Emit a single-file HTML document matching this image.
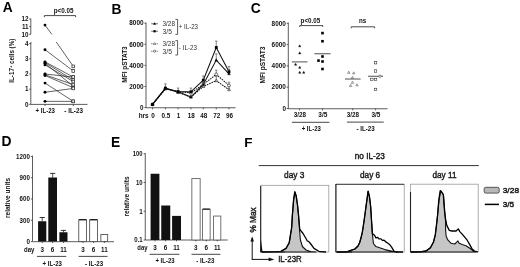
<!DOCTYPE html>
<html><head><meta charset="utf-8"><style>
html,body{margin:0;padding:0;background:#fff;}
body{width:520px;height:267px;overflow:hidden;}
svg{display:block;font-family:"Liberation Sans", sans-serif;filter:grayscale(100%) blur(0.3px);}
</style></head><body>
<svg width="520" height="267" viewBox="0 0 520 267">
<rect width="520" height="267" fill="#fff"/>
<text x="2.80" y="12.10" font-size="13.8" font-weight="bold" fill="#000">A</text>
<line x1="30.80" y1="18.60" x2="30.80" y2="34.40" stroke="#333" stroke-width="0.8" />
<line x1="30.80" y1="42.40" x2="30.80" y2="104.40" stroke="#333" stroke-width="0.8" />
<line x1="30.80" y1="42.60" x2="31.60" y2="42.60" stroke="#333" stroke-width="0.6" />
<line x1="29.20" y1="19.00" x2="30.80" y2="19.00" stroke="#333" stroke-width="0.8" />
<text x="28.60" y="21.27" font-size="6.3" text-anchor="end" font-weight="bold" fill="#111">12</text>
<line x1="29.20" y1="26.65" x2="30.80" y2="26.65" stroke="#333" stroke-width="0.8" />
<text x="28.60" y="28.92" font-size="6.3" text-anchor="end" font-weight="bold" fill="#111">11</text>
<line x1="29.20" y1="34.30" x2="30.80" y2="34.30" stroke="#333" stroke-width="0.8" />
<text x="28.60" y="36.57" font-size="6.3" text-anchor="end" font-weight="bold" fill="#111">10</text>
<line x1="29.20" y1="43.60" x2="30.80" y2="43.60" stroke="#333" stroke-width="0.8" />
<text x="28.60" y="45.87" font-size="6.3" text-anchor="end" font-weight="bold" fill="#111">4</text>
<line x1="29.20" y1="58.80" x2="30.80" y2="58.80" stroke="#333" stroke-width="0.8" />
<text x="28.60" y="61.07" font-size="6.3" text-anchor="end" font-weight="bold" fill="#111">3</text>
<line x1="29.20" y1="74.00" x2="30.80" y2="74.00" stroke="#333" stroke-width="0.8" />
<text x="28.60" y="76.27" font-size="6.3" text-anchor="end" font-weight="bold" fill="#111">2</text>
<line x1="29.20" y1="89.20" x2="30.80" y2="89.20" stroke="#333" stroke-width="0.8" />
<text x="28.60" y="91.47" font-size="6.3" text-anchor="end" font-weight="bold" fill="#111">1</text>
<line x1="29.20" y1="104.40" x2="30.80" y2="104.40" stroke="#333" stroke-width="0.8" />
<text x="28.60" y="106.67" font-size="6.3" text-anchor="end" font-weight="bold" fill="#111">0</text>
<line x1="30.80" y1="104.40" x2="87.50" y2="104.40" stroke="#333" stroke-width="0.8" />
<line x1="45.00" y1="104.40" x2="45.00" y2="106.00" stroke="#333" stroke-width="0.8" />
<line x1="73.30" y1="104.40" x2="73.30" y2="106.00" stroke="#333" stroke-width="0.8" />
<text x="45.30" y="112.87" font-size="6.3" text-anchor="middle" font-weight="bold" fill="#111" textLength="19.40" lengthAdjust="spacingAndGlyphs">+ IL-23</text>
<text x="73.70" y="112.87" font-size="6.3" text-anchor="middle" font-weight="bold" fill="#111" textLength="18.70" lengthAdjust="spacingAndGlyphs">- IL-23</text>
<polyline points="44.40,17.20 44.40,15.60 75.60,15.60 75.60,17.20" stroke="#333" stroke-width="0.9" fill="none" />
<text x="63.60" y="12.77" font-size="6.3" text-anchor="middle" font-weight="bold" fill="#111" textLength="19.80" lengthAdjust="spacingAndGlyphs">p&lt;0.05</text>
<g transform="translate(11.5,60.7) rotate(-90)"><text x="0" y="2.3" font-size="6.6" font-weight="bold" text-anchor="middle" fill="#111" textLength="44" lengthAdjust="spacingAndGlyphs">IL-17<tspan font-size="4.2" dy="-2.2">+</tspan><tspan dy="2.2"> cells (%)</tspan></text></g>
<line x1="45.00" y1="25.12" x2="51.90" y2="34.40" stroke="#222" stroke-width="0.7" />
<line x1="56.20" y1="41.90" x2="73.30" y2="66.40" stroke="#222" stroke-width="0.7" />
<line x1="45.00" y1="49.68" x2="73.30" y2="70.96" stroke="#222" stroke-width="0.7" />
<line x1="45.00" y1="61.84" x2="73.30" y2="77.04" stroke="#222" stroke-width="0.7" />
<line x1="45.00" y1="62.60" x2="73.30" y2="80.08" stroke="#222" stroke-width="0.7" />
<line x1="45.00" y1="63.36" x2="73.30" y2="86.16" stroke="#222" stroke-width="0.7" />
<line x1="45.00" y1="64.88" x2="73.30" y2="81.60" stroke="#222" stroke-width="0.7" />
<line x1="45.00" y1="74.00" x2="73.30" y2="77.04" stroke="#222" stroke-width="0.7" />
<line x1="45.00" y1="74.76" x2="73.30" y2="84.64" stroke="#222" stroke-width="0.7" />
<line x1="45.00" y1="75.52" x2="73.30" y2="87.68" stroke="#222" stroke-width="0.7" />
<line x1="45.00" y1="83.12" x2="73.30" y2="101.36" stroke="#222" stroke-width="0.7" />
<line x1="45.00" y1="92.24" x2="73.30" y2="88.44" stroke="#222" stroke-width="0.7" />
<line x1="45.00" y1="101.36" x2="73.30" y2="101.36" stroke="#222" stroke-width="0.7" />
<circle cx="45.0" cy="25.12" r="1.45" fill="#000"/>
<rect x="71.95" y="65.05" width="2.70" height="2.70" fill="#fff" stroke="#222" stroke-width="0.7" />
<circle cx="45.0" cy="49.68" r="1.45" fill="#000"/>
<rect x="71.95" y="69.61" width="2.70" height="2.70" fill="#fff" stroke="#222" stroke-width="0.7" />
<circle cx="45.0" cy="61.84" r="1.45" fill="#000"/>
<rect x="71.95" y="75.69" width="2.70" height="2.70" fill="#fff" stroke="#222" stroke-width="0.7" />
<circle cx="45.0" cy="62.60" r="1.45" fill="#000"/>
<rect x="71.95" y="78.73" width="2.70" height="2.70" fill="#fff" stroke="#222" stroke-width="0.7" />
<circle cx="45.0" cy="63.36" r="1.45" fill="#000"/>
<rect x="71.95" y="84.81" width="2.70" height="2.70" fill="#fff" stroke="#222" stroke-width="0.7" />
<circle cx="45.0" cy="64.88" r="1.45" fill="#000"/>
<rect x="71.95" y="80.25" width="2.70" height="2.70" fill="#fff" stroke="#222" stroke-width="0.7" />
<circle cx="45.0" cy="74.00" r="1.45" fill="#000"/>
<rect x="71.95" y="75.69" width="2.70" height="2.70" fill="#fff" stroke="#222" stroke-width="0.7" />
<circle cx="45.0" cy="74.76" r="1.45" fill="#000"/>
<rect x="71.95" y="83.29" width="2.70" height="2.70" fill="#fff" stroke="#222" stroke-width="0.7" />
<circle cx="45.0" cy="75.52" r="1.45" fill="#000"/>
<rect x="71.95" y="86.33" width="2.70" height="2.70" fill="#fff" stroke="#222" stroke-width="0.7" />
<circle cx="45.0" cy="83.12" r="1.45" fill="#000"/>
<rect x="71.95" y="100.01" width="2.70" height="2.70" fill="#fff" stroke="#222" stroke-width="0.7" />
<circle cx="45.0" cy="92.24" r="1.45" fill="#000"/>
<rect x="71.95" y="87.09" width="2.70" height="2.70" fill="#fff" stroke="#222" stroke-width="0.7" />
<circle cx="45.0" cy="101.36" r="1.45" fill="#000"/>
<rect x="71.95" y="100.01" width="2.70" height="2.70" fill="#fff" stroke="#222" stroke-width="0.7" />
<text x="111.40" y="13.60" font-size="13.8" font-weight="bold" fill="#000">B</text>
<line x1="146.00" y1="22.60" x2="146.00" y2="107.75" stroke="#333" stroke-width="0.8" />
<line x1="144.40" y1="23.20" x2="146.00" y2="23.20" stroke="#333" stroke-width="0.8" />
<text x="143.60" y="25.47" font-size="6.3" text-anchor="end" font-weight="bold" fill="#111" textLength="14.30" lengthAdjust="spacingAndGlyphs">8000</text>
<line x1="144.40" y1="44.30" x2="146.00" y2="44.30" stroke="#333" stroke-width="0.8" />
<text x="143.60" y="46.57" font-size="6.3" text-anchor="end" font-weight="bold" fill="#111" textLength="14.30" lengthAdjust="spacingAndGlyphs">6000</text>
<line x1="144.40" y1="65.40" x2="146.00" y2="65.40" stroke="#333" stroke-width="0.8" />
<text x="143.60" y="67.67" font-size="6.3" text-anchor="end" font-weight="bold" fill="#111" textLength="14.30" lengthAdjust="spacingAndGlyphs">4000</text>
<line x1="144.40" y1="86.50" x2="146.00" y2="86.50" stroke="#333" stroke-width="0.8" />
<text x="143.60" y="88.77" font-size="6.3" text-anchor="end" font-weight="bold" fill="#111" textLength="14.30" lengthAdjust="spacingAndGlyphs">2000</text>
<line x1="144.40" y1="107.60" x2="146.00" y2="107.60" stroke="#333" stroke-width="0.8" />
<text x="143.60" y="109.87" font-size="6.3" text-anchor="end" font-weight="bold" fill="#111">0</text>
<line x1="146.00" y1="107.75" x2="235.60" y2="107.75" stroke="#333" stroke-width="0.8" />
<line x1="152.50" y1="107.75" x2="152.50" y2="109.30" stroke="#333" stroke-width="0.8" />
<text x="152.90" y="117.87" font-size="6.3" text-anchor="middle" font-weight="bold" fill="#111">0</text>
<line x1="165.40" y1="107.75" x2="165.40" y2="109.30" stroke="#333" stroke-width="0.8" />
<text x="165.80" y="117.87" font-size="6.3" text-anchor="middle" font-weight="bold" fill="#111">0.5</text>
<line x1="178.10" y1="107.75" x2="178.10" y2="109.30" stroke="#333" stroke-width="0.8" />
<text x="178.50" y="117.87" font-size="6.3" text-anchor="middle" font-weight="bold" fill="#111">1</text>
<line x1="190.90" y1="107.75" x2="190.90" y2="109.30" stroke="#333" stroke-width="0.8" />
<text x="191.30" y="117.87" font-size="6.3" text-anchor="middle" font-weight="bold" fill="#111">18</text>
<line x1="203.30" y1="107.75" x2="203.30" y2="109.30" stroke="#333" stroke-width="0.8" />
<text x="203.70" y="117.87" font-size="6.3" text-anchor="middle" font-weight="bold" fill="#111">48</text>
<line x1="216.25" y1="107.75" x2="216.25" y2="109.30" stroke="#333" stroke-width="0.8" />
<text x="216.65" y="117.87" font-size="6.3" text-anchor="middle" font-weight="bold" fill="#111">72</text>
<line x1="229.00" y1="107.75" x2="229.00" y2="109.30" stroke="#333" stroke-width="0.8" />
<text x="229.40" y="117.87" font-size="6.3" text-anchor="middle" font-weight="bold" fill="#111">96</text>
<text x="143.70" y="117.87" font-size="6.3" text-anchor="middle" font-weight="bold" fill="#111" textLength="10.00" lengthAdjust="spacingAndGlyphs">hrs</text>
<g transform="translate(124.6,64.5) rotate(-90)"><text x="0" y="2.27" font-size="6.3" font-weight="bold" text-anchor="middle" fill="#111" textLength="36.4" lengthAdjust="spacingAndGlyphs">MFI pSTAT3</text></g>
<polyline points="152.50,104.43 165.40,88.61 178.10,92.30 190.90,97.05 203.30,86.50 216.25,80.70 229.00,89.66" stroke="#111" stroke-width="1.05" fill="none" stroke-dasharray="1.6,0.9"/>
<polyline points="152.50,104.43 165.40,88.61 178.10,91.77 190.90,92.83 203.30,84.39 216.25,74.37 229.00,85.44" stroke="#111" stroke-width="1.05" fill="none" stroke-dasharray="1.6,0.9"/>
<polyline points="152.50,104.43 165.40,88.61 178.10,91.77 190.90,97.05 203.30,84.39 216.25,60.12 229.00,73.84" stroke="#111" stroke-width="1.05" fill="none" />
<polyline points="152.50,104.43 165.40,88.08 178.10,91.77 190.90,91.77 203.30,80.17 216.25,47.46 229.00,71.73" stroke="#111" stroke-width="1.05" fill="none" />
<line x1="165.40" y1="88.08" x2="165.40" y2="83.86" stroke="#666" stroke-width="0.8" />
<line x1="164.20" y1="83.86" x2="166.60" y2="83.86" stroke="#666" stroke-width="0.8" />
<line x1="178.10" y1="91.77" x2="178.10" y2="88.08" stroke="#666" stroke-width="0.8" />
<line x1="176.90" y1="88.08" x2="179.30" y2="88.08" stroke="#666" stroke-width="0.8" />
<line x1="190.90" y1="91.77" x2="190.90" y2="88.08" stroke="#666" stroke-width="0.8" />
<line x1="189.70" y1="88.08" x2="192.10" y2="88.08" stroke="#666" stroke-width="0.8" />
<line x1="203.30" y1="80.17" x2="203.30" y2="75.95" stroke="#666" stroke-width="0.8" />
<line x1="202.10" y1="75.95" x2="204.50" y2="75.95" stroke="#666" stroke-width="0.8" />
<line x1="216.25" y1="47.46" x2="216.25" y2="41.13" stroke="#666" stroke-width="0.8" />
<line x1="215.05" y1="41.13" x2="217.45" y2="41.13" stroke="#666" stroke-width="0.8" />
<line x1="229.00" y1="71.73" x2="229.00" y2="66.45" stroke="#666" stroke-width="0.8" />
<line x1="227.80" y1="66.45" x2="230.20" y2="66.45" stroke="#666" stroke-width="0.8" />
<line x1="165.40" y1="88.61" x2="165.40" y2="87.55" stroke="#666" stroke-width="0.8" />
<line x1="164.20" y1="87.55" x2="166.60" y2="87.55" stroke="#666" stroke-width="0.8" />
<line x1="178.10" y1="91.77" x2="178.10" y2="90.72" stroke="#666" stroke-width="0.8" />
<line x1="176.90" y1="90.72" x2="179.30" y2="90.72" stroke="#666" stroke-width="0.8" />
<line x1="190.90" y1="97.05" x2="190.90" y2="95.99" stroke="#666" stroke-width="0.8" />
<line x1="189.70" y1="95.99" x2="192.10" y2="95.99" stroke="#666" stroke-width="0.8" />
<line x1="203.30" y1="84.39" x2="203.30" y2="82.28" stroke="#666" stroke-width="0.8" />
<line x1="202.10" y1="82.28" x2="204.50" y2="82.28" stroke="#666" stroke-width="0.8" />
<line x1="216.25" y1="60.12" x2="216.25" y2="53.79" stroke="#666" stroke-width="0.8" />
<line x1="215.05" y1="53.79" x2="217.45" y2="53.79" stroke="#666" stroke-width="0.8" />
<line x1="229.00" y1="73.84" x2="229.00" y2="69.62" stroke="#666" stroke-width="0.8" />
<line x1="227.80" y1="69.62" x2="230.20" y2="69.62" stroke="#666" stroke-width="0.8" />
<line x1="165.40" y1="88.61" x2="165.40" y2="87.55" stroke="#666" stroke-width="0.8" />
<line x1="164.20" y1="87.55" x2="166.60" y2="87.55" stroke="#666" stroke-width="0.8" />
<line x1="178.10" y1="91.77" x2="178.10" y2="90.72" stroke="#666" stroke-width="0.8" />
<line x1="176.90" y1="90.72" x2="179.30" y2="90.72" stroke="#666" stroke-width="0.8" />
<line x1="190.90" y1="92.83" x2="190.90" y2="91.77" stroke="#666" stroke-width="0.8" />
<line x1="189.70" y1="91.77" x2="192.10" y2="91.77" stroke="#666" stroke-width="0.8" />
<line x1="203.30" y1="84.39" x2="203.30" y2="82.28" stroke="#666" stroke-width="0.8" />
<line x1="202.10" y1="82.28" x2="204.50" y2="82.28" stroke="#666" stroke-width="0.8" />
<line x1="216.25" y1="74.37" x2="216.25" y2="70.15" stroke="#666" stroke-width="0.8" />
<line x1="215.05" y1="70.15" x2="217.45" y2="70.15" stroke="#666" stroke-width="0.8" />
<line x1="229.00" y1="85.44" x2="229.00" y2="82.28" stroke="#666" stroke-width="0.8" />
<line x1="227.80" y1="82.28" x2="230.20" y2="82.28" stroke="#666" stroke-width="0.8" />
<line x1="165.40" y1="88.61" x2="165.40" y2="87.55" stroke="#666" stroke-width="0.8" />
<line x1="164.20" y1="87.55" x2="166.60" y2="87.55" stroke="#666" stroke-width="0.8" />
<line x1="178.10" y1="92.30" x2="178.10" y2="91.25" stroke="#666" stroke-width="0.8" />
<line x1="176.90" y1="91.25" x2="179.30" y2="91.25" stroke="#666" stroke-width="0.8" />
<line x1="190.90" y1="97.05" x2="190.90" y2="95.99" stroke="#666" stroke-width="0.8" />
<line x1="189.70" y1="95.99" x2="192.10" y2="95.99" stroke="#666" stroke-width="0.8" />
<line x1="203.30" y1="86.50" x2="203.30" y2="84.39" stroke="#666" stroke-width="0.8" />
<line x1="202.10" y1="84.39" x2="204.50" y2="84.39" stroke="#666" stroke-width="0.8" />
<line x1="216.25" y1="80.70" x2="216.25" y2="76.48" stroke="#666" stroke-width="0.8" />
<line x1="215.05" y1="76.48" x2="217.45" y2="76.48" stroke="#666" stroke-width="0.8" />
<line x1="229.00" y1="89.66" x2="229.00" y2="86.50" stroke="#666" stroke-width="0.8" />
<line x1="227.80" y1="86.50" x2="230.20" y2="86.50" stroke="#666" stroke-width="0.8" />
<polygon points="152.50,102.92 151.10,105.44 153.90,105.44" fill="#fff" stroke="#111" stroke-width="0.6"/>
<polygon points="165.40,87.10 164.00,89.62 166.80,89.62" fill="#fff" stroke="#111" stroke-width="0.6"/>
<polygon points="178.10,90.79 176.70,93.31 179.50,93.31" fill="#fff" stroke="#111" stroke-width="0.6"/>
<polygon points="190.90,95.54 189.50,98.06 192.30,98.06" fill="#fff" stroke="#111" stroke-width="0.6"/>
<polygon points="203.30,84.99 201.90,87.51 204.70,87.51" fill="#fff" stroke="#111" stroke-width="0.6"/>
<polygon points="216.25,79.19 214.85,81.71 217.65,81.71" fill="#fff" stroke="#111" stroke-width="0.6"/>
<polygon points="229.00,88.15 227.60,90.67 230.40,90.67" fill="#fff" stroke="#111" stroke-width="0.6"/>
<circle cx="152.5" cy="104.43" r="1.45" fill="#fff" stroke="#111" stroke-width="0.6"/>
<circle cx="165.4" cy="88.61" r="1.45" fill="#fff" stroke="#111" stroke-width="0.6"/>
<circle cx="178.1" cy="91.77" r="1.45" fill="#fff" stroke="#111" stroke-width="0.6"/>
<circle cx="190.9" cy="92.83" r="1.45" fill="#fff" stroke="#111" stroke-width="0.6"/>
<circle cx="203.3" cy="84.39" r="1.45" fill="#fff" stroke="#111" stroke-width="0.6"/>
<circle cx="216.25" cy="74.37" r="1.45" fill="#fff" stroke="#111" stroke-width="0.6"/>
<circle cx="229.0" cy="85.44" r="1.45" fill="#fff" stroke="#111" stroke-width="0.6"/>
<polygon points="152.50,102.92 151.10,105.44 153.90,105.44" fill="#000" stroke="#111" stroke-width="0.4"/>
<polygon points="165.40,87.10 164.00,89.62 166.80,89.62" fill="#000" stroke="#111" stroke-width="0.4"/>
<polygon points="178.10,90.26 176.70,92.78 179.50,92.78" fill="#000" stroke="#111" stroke-width="0.4"/>
<polygon points="190.90,95.54 189.50,98.06 192.30,98.06" fill="#000" stroke="#111" stroke-width="0.4"/>
<polygon points="203.30,82.88 201.90,85.40 204.70,85.40" fill="#000" stroke="#111" stroke-width="0.4"/>
<polygon points="216.25,58.61 214.85,61.13 217.65,61.13" fill="#000" stroke="#111" stroke-width="0.4"/>
<polygon points="229.00,72.33 227.60,74.85 230.40,74.85" fill="#000" stroke="#111" stroke-width="0.4"/>
<rect x="151.10" y="103.03" width="2.80" height="2.80" fill="#000" stroke="none" stroke-width="0" />
<rect x="164.00" y="86.68" width="2.80" height="2.80" fill="#000" stroke="none" stroke-width="0" />
<rect x="176.70" y="90.37" width="2.80" height="2.80" fill="#000" stroke="none" stroke-width="0" />
<rect x="189.50" y="90.37" width="2.80" height="2.80" fill="#000" stroke="none" stroke-width="0" />
<rect x="201.90" y="78.77" width="2.80" height="2.80" fill="#000" stroke="none" stroke-width="0" />
<rect x="214.85" y="46.06" width="2.80" height="2.80" fill="#000" stroke="none" stroke-width="0" />
<rect x="227.60" y="70.33" width="2.80" height="2.80" fill="#000" stroke="none" stroke-width="0" />
<line x1="151.20" y1="23.75" x2="158.00" y2="23.75" stroke="#333" stroke-width="0.7" />
<polygon points="154.60,22.56 153.50,24.54 155.70,24.54" fill="#000" stroke="#111" stroke-width="0.4"/>
<line x1="151.20" y1="31.25" x2="158.00" y2="31.25" stroke="#333" stroke-width="0.7" />
<rect x="153.50" y="30.15" width="2.20" height="2.20" fill="#000" stroke="none" stroke-width="0" />
<line x1="151.20" y1="43.75" x2="158.00" y2="43.75" stroke="#333" stroke-width="0.7" stroke-dasharray="1.2,0.8"/>
<polygon points="154.60,42.56 153.50,44.54 155.70,44.54" fill="#fff" stroke="#111" stroke-width="0.4"/>
<line x1="151.20" y1="51.25" x2="158.00" y2="51.25" stroke="#333" stroke-width="0.7" stroke-dasharray="1.2,0.8"/>
<circle cx="154.6" cy="51.25" r="1.1" fill="#fff" stroke="#111" stroke-width="0.5"/>
<text x="162.50" y="26.02" font-size="6.3" text-anchor="start" font-weight="normal" fill="#333" textLength="12.50" lengthAdjust="spacingAndGlyphs">3/28</text>
<text x="162.50" y="33.52" font-size="6.3" text-anchor="start" font-weight="normal" fill="#333" textLength="9.40" lengthAdjust="spacingAndGlyphs">3/5</text>
<text x="162.50" y="46.02" font-size="6.3" text-anchor="start" font-weight="normal" fill="#333" textLength="12.50" lengthAdjust="spacingAndGlyphs">3/28</text>
<text x="162.50" y="53.52" font-size="6.3" text-anchor="start" font-weight="normal" fill="#333" textLength="9.40" lengthAdjust="spacingAndGlyphs">3/5</text>
<polyline points="175.40,19.40 177.60,19.40 177.60,34.40 175.40,34.40" stroke="#333" stroke-width="0.8" fill="none" />
<polyline points="175.40,40.60 177.60,40.60 177.60,55.00 175.40,55.00" stroke="#333" stroke-width="0.8" fill="none" />
<text x="178.80" y="29.17" font-size="6.3" text-anchor="start" font-weight="normal" fill="#333" textLength="19.20" lengthAdjust="spacingAndGlyphs">+ IL-23</text>
<text x="178.80" y="49.77" font-size="6.3" text-anchor="start" font-weight="normal" fill="#333" textLength="18.20" lengthAdjust="spacingAndGlyphs">- IL-23</text>
<text x="250.80" y="13.20" font-size="13.8" font-weight="bold" fill="#000">C</text>
<line x1="288.30" y1="22.60" x2="288.30" y2="108.75" stroke="#333" stroke-width="0.8" />
<line x1="286.70" y1="23.30" x2="288.30" y2="23.30" stroke="#333" stroke-width="0.8" />
<text x="285.90" y="25.57" font-size="6.3" text-anchor="end" font-weight="bold" fill="#111" textLength="14.30" lengthAdjust="spacingAndGlyphs">8000</text>
<line x1="286.70" y1="44.60" x2="288.30" y2="44.60" stroke="#333" stroke-width="0.8" />
<text x="285.90" y="46.87" font-size="6.3" text-anchor="end" font-weight="bold" fill="#111" textLength="14.30" lengthAdjust="spacingAndGlyphs">6000</text>
<line x1="286.70" y1="65.90" x2="288.30" y2="65.90" stroke="#333" stroke-width="0.8" />
<text x="285.90" y="68.17" font-size="6.3" text-anchor="end" font-weight="bold" fill="#111" textLength="14.30" lengthAdjust="spacingAndGlyphs">4000</text>
<line x1="286.70" y1="87.20" x2="288.30" y2="87.20" stroke="#333" stroke-width="0.8" />
<text x="285.90" y="89.47" font-size="6.3" text-anchor="end" font-weight="bold" fill="#111" textLength="14.30" lengthAdjust="spacingAndGlyphs">2000</text>
<line x1="286.70" y1="108.50" x2="288.30" y2="108.50" stroke="#333" stroke-width="0.8" />
<text x="285.90" y="110.77" font-size="6.3" text-anchor="end" font-weight="bold" fill="#111">0</text>
<line x1="288.30" y1="108.75" x2="387.50" y2="108.75" stroke="#333" stroke-width="0.8" />
<line x1="299.50" y1="108.75" x2="299.50" y2="110.30" stroke="#333" stroke-width="0.8" />
<text x="299.80" y="117.17" font-size="6.3" text-anchor="middle" font-weight="bold" fill="#111" textLength="12.30" lengthAdjust="spacingAndGlyphs">3/28</text>
<line x1="322.50" y1="108.75" x2="322.50" y2="110.30" stroke="#333" stroke-width="0.8" />
<text x="322.80" y="117.17" font-size="6.3" text-anchor="middle" font-weight="bold" fill="#111" textLength="9.00" lengthAdjust="spacingAndGlyphs">3/5</text>
<line x1="352.70" y1="108.75" x2="352.70" y2="110.30" stroke="#333" stroke-width="0.8" />
<text x="353.00" y="117.17" font-size="6.3" text-anchor="middle" font-weight="bold" fill="#111" textLength="12.30" lengthAdjust="spacingAndGlyphs">3/28</text>
<line x1="375.60" y1="108.75" x2="375.60" y2="110.30" stroke="#333" stroke-width="0.8" />
<text x="375.90" y="117.17" font-size="6.3" text-anchor="middle" font-weight="bold" fill="#111" textLength="9.00" lengthAdjust="spacingAndGlyphs">3/5</text>
<line x1="291.90" y1="122.30" x2="329.40" y2="122.30" stroke="#333" stroke-width="0.9" />
<line x1="346.90" y1="122.10" x2="383.75" y2="122.10" stroke="#333" stroke-width="0.9" />
<text x="311.25" y="131.47" font-size="6.3" text-anchor="middle" font-weight="bold" fill="#111" textLength="19.20" lengthAdjust="spacingAndGlyphs">+ IL-23</text>
<text x="365.60" y="130.87" font-size="6.3" text-anchor="middle" font-weight="bold" fill="#111" textLength="18.40" lengthAdjust="spacingAndGlyphs">- IL-23</text>
<polyline points="299.75,27.00 299.75,25.60 322.75,25.60 322.75,27.00" stroke="#333" stroke-width="0.9" fill="none" />
<text x="310.40" y="23.47" font-size="6.3" text-anchor="middle" font-weight="bold" fill="#111" textLength="19.60" lengthAdjust="spacingAndGlyphs">p&lt;0.05</text>
<polyline points="351.25,28.20 351.25,26.80 374.60,26.80 374.60,28.20" stroke="#333" stroke-width="0.9" fill="none" />
<text x="362.60" y="23.37" font-size="6.3" text-anchor="middle" font-weight="bold" fill="#111" textLength="7.20" lengthAdjust="spacingAndGlyphs">ns</text>
<g transform="translate(263.1,65.0) rotate(-90)"><text x="0" y="2.27" font-size="6.3" font-weight="bold" text-anchor="middle" fill="#111" textLength="36.9" lengthAdjust="spacingAndGlyphs">MFI pSTAT3</text></g>
<polygon points="299.75,44.76 298.60,46.83 300.90,46.83" fill="#000" stroke="#111" stroke-width="0.4"/>
<polygon points="299.75,51.86 298.60,53.93 300.90,53.93" fill="#000" stroke="#111" stroke-width="0.4"/>
<polygon points="295.60,63.16 294.45,65.23 296.75,65.23" fill="#000" stroke="#111" stroke-width="0.4"/>
<polygon points="299.75,66.26 298.60,68.33 300.90,68.33" fill="#000" stroke="#111" stroke-width="0.4"/>
<polygon points="299.75,71.26 298.60,73.33 300.90,73.33" fill="#000" stroke="#111" stroke-width="0.4"/>
<polygon points="303.75,71.26 302.60,73.33 304.90,73.33" fill="#000" stroke="#111" stroke-width="0.4"/>
<rect x="321.20" y="31.80" width="2.60" height="2.60" fill="#000" stroke="none" stroke-width="0" />
<rect x="321.20" y="39.95" width="2.60" height="2.60" fill="#000" stroke="none" stroke-width="0" />
<rect x="321.20" y="55.20" width="2.60" height="2.60" fill="#000" stroke="none" stroke-width="0" />
<rect x="317.20" y="59.30" width="2.60" height="2.60" fill="#000" stroke="none" stroke-width="0" />
<rect x="321.20" y="60.20" width="2.60" height="2.60" fill="#000" stroke="none" stroke-width="0" />
<rect x="321.20" y="67.70" width="2.60" height="2.60" fill="#000" stroke="none" stroke-width="0" />
<line x1="291.90" y1="61.90" x2="307.50" y2="61.90" stroke="#222" stroke-width="0.8" />
<line x1="314.40" y1="53.75" x2="330.60" y2="53.75" stroke="#222" stroke-width="0.8" />
<line x1="345.00" y1="79.00" x2="360.60" y2="79.00" stroke="#222" stroke-width="0.8" />
<line x1="368.00" y1="76.25" x2="383.00" y2="76.25" stroke="#222" stroke-width="0.8" />
<polygon points="348.75,71.20 347.55,73.36 349.95,73.36" fill="#fff" stroke="#111" stroke-width="0.4"/>
<polygon points="353.75,71.80 352.55,73.96 354.95,73.96" fill="#fff" stroke="#111" stroke-width="0.4"/>
<polygon points="352.50,76.20 351.30,78.36 353.70,78.36" fill="#fff" stroke="#111" stroke-width="0.4"/>
<polygon points="352.50,81.20 351.30,83.36 353.70,83.36" fill="#fff" stroke="#111" stroke-width="0.4"/>
<polygon points="350.60,84.30 349.40,86.46 351.80,86.46" fill="#fff" stroke="#111" stroke-width="0.4"/>
<polygon points="357.00,83.70 355.80,85.86 358.20,85.86" fill="#fff" stroke="#111" stroke-width="0.4"/>
<rect x="374.40" y="61.55" width="2.40" height="2.40" fill="#fff" stroke="#111" stroke-width="0.5" />
<rect x="374.40" y="69.80" width="2.40" height="2.40" fill="#fff" stroke="#111" stroke-width="0.5" />
<rect x="370.70" y="78.20" width="2.40" height="2.40" fill="#fff" stroke="#111" stroke-width="0.5" />
<rect x="374.40" y="78.20" width="2.40" height="2.40" fill="#fff" stroke="#111" stroke-width="0.5" />
<rect x="374.40" y="88.20" width="2.40" height="2.40" fill="#fff" stroke="#111" stroke-width="0.5" />
<circle cx="380" cy="76.2" r="1.2" fill="#fff" stroke="#111" stroke-width="0.5"/>
<text x="1.60" y="146.40" font-size="13.8" font-weight="bold" fill="#000">D</text>
<line x1="32.50" y1="155.60" x2="32.50" y2="241.50" stroke="#333" stroke-width="0.8" />
<line x1="30.90" y1="156.48" x2="32.50" y2="156.48" stroke="#333" stroke-width="0.8" />
<text x="29.90" y="158.75" font-size="6.3" text-anchor="end" font-weight="bold" fill="#111" textLength="13.80" lengthAdjust="spacingAndGlyphs">1200</text>
<line x1="30.90" y1="177.74" x2="32.50" y2="177.74" stroke="#333" stroke-width="0.8" />
<text x="29.90" y="180.00" font-size="6.3" text-anchor="end" font-weight="bold" fill="#111" textLength="10.30" lengthAdjust="spacingAndGlyphs">900</text>
<line x1="30.90" y1="198.99" x2="32.50" y2="198.99" stroke="#333" stroke-width="0.8" />
<text x="29.90" y="201.26" font-size="6.3" text-anchor="end" font-weight="bold" fill="#111" textLength="10.30" lengthAdjust="spacingAndGlyphs">600</text>
<line x1="30.90" y1="220.25" x2="32.50" y2="220.25" stroke="#333" stroke-width="0.8" />
<text x="29.90" y="222.51" font-size="6.3" text-anchor="end" font-weight="bold" fill="#111" textLength="10.30" lengthAdjust="spacingAndGlyphs">300</text>
<line x1="30.90" y1="241.50" x2="32.50" y2="241.50" stroke="#333" stroke-width="0.8" />
<text x="29.90" y="243.77" font-size="6.3" text-anchor="end" font-weight="bold" fill="#111">0</text>
<line x1="32.50" y1="241.70" x2="114.00" y2="241.70" stroke="#333" stroke-width="0.8" />
<line x1="42.20" y1="221.25" x2="42.20" y2="217.50" stroke="#222" stroke-width="0.8" />
<line x1="39.60" y1="217.50" x2="44.80" y2="217.50" stroke="#222" stroke-width="0.9" />
<rect x="38.10" y="221.25" width="8.20" height="20.25" fill="#111" stroke="none" stroke-width="0" />
<line x1="52.65" y1="177.50" x2="52.65" y2="173.40" stroke="#222" stroke-width="0.8" />
<line x1="50.05" y1="173.40" x2="55.25" y2="173.40" stroke="#222" stroke-width="0.9" />
<rect x="48.30" y="177.50" width="8.70" height="64.00" fill="#111" stroke="none" stroke-width="0" />
<line x1="63.45" y1="232.25" x2="63.45" y2="230.40" stroke="#222" stroke-width="0.8" />
<line x1="60.85" y1="230.40" x2="66.05" y2="230.40" stroke="#222" stroke-width="0.9" />
<rect x="59.40" y="232.25" width="8.10" height="9.25" fill="#111" stroke="none" stroke-width="0" />
<rect x="78.75" y="219.85" width="7.80" height="21.65" fill="#fff" stroke="#555" stroke-width="0.9" />
<line x1="79.50" y1="219.70" x2="85.80" y2="219.70" stroke="#222" stroke-width="1.3" stroke-linecap="round"/>
<rect x="89.65" y="219.85" width="7.90" height="21.65" fill="#fff" stroke="#555" stroke-width="0.9" />
<line x1="90.40" y1="219.70" x2="96.80" y2="219.70" stroke="#222" stroke-width="1.3" stroke-linecap="round"/>
<rect x="100.85" y="234.45" width="6.80" height="7.05" fill="#fff" stroke="#555" stroke-width="0.9" />
<line x1="42.20" y1="241.70" x2="42.20" y2="243.00" stroke="#333" stroke-width="0.8" />
<text x="42.20" y="252.27" font-size="6.3" text-anchor="middle" font-weight="bold" fill="#111">3</text>
<line x1="52.60" y1="241.70" x2="52.60" y2="243.00" stroke="#333" stroke-width="0.8" />
<text x="52.60" y="252.27" font-size="6.3" text-anchor="middle" font-weight="bold" fill="#111">6</text>
<line x1="63.50" y1="241.70" x2="63.50" y2="243.00" stroke="#333" stroke-width="0.8" />
<text x="63.50" y="252.27" font-size="6.3" text-anchor="middle" font-weight="bold" fill="#111">11</text>
<line x1="83.00" y1="241.70" x2="83.00" y2="243.00" stroke="#333" stroke-width="0.8" />
<text x="83.00" y="252.27" font-size="6.3" text-anchor="middle" font-weight="bold" fill="#111">3</text>
<line x1="93.50" y1="241.70" x2="93.50" y2="243.00" stroke="#333" stroke-width="0.8" />
<text x="93.50" y="252.27" font-size="6.3" text-anchor="middle" font-weight="bold" fill="#111">6</text>
<line x1="104.40" y1="241.70" x2="104.40" y2="243.00" stroke="#333" stroke-width="0.8" />
<text x="104.40" y="252.27" font-size="6.3" text-anchor="middle" font-weight="bold" fill="#111">11</text>
<text x="29.20" y="252.27" font-size="6.3" text-anchor="middle" font-weight="bold" fill="#111" textLength="10.40" lengthAdjust="spacingAndGlyphs">day</text>
<line x1="36.90" y1="256.40" x2="66.25" y2="256.40" stroke="#333" stroke-width="0.9" />
<line x1="78.60" y1="256.40" x2="107.50" y2="256.40" stroke="#333" stroke-width="0.9" />
<text x="52.20" y="265.57" font-size="6.3" text-anchor="middle" font-weight="bold" fill="#111" textLength="19.40" lengthAdjust="spacingAndGlyphs">+ IL-23</text>
<text x="94.00" y="265.57" font-size="6.3" text-anchor="middle" font-weight="bold" fill="#111" textLength="18.20" lengthAdjust="spacingAndGlyphs">- IL-23</text>
<g transform="translate(8.0,198.0) rotate(-90)"><text x="0" y="2.27" font-size="6.3" font-weight="bold" text-anchor="middle" fill="#111" textLength="40" lengthAdjust="spacingAndGlyphs">relative units</text></g>
<text x="110.90" y="147.00" font-size="13.8" font-weight="bold" fill="#000">E</text>
<line x1="145.25" y1="153.10" x2="145.25" y2="240.00" stroke="#333" stroke-width="0.8" />
<line x1="143.65" y1="153.75" x2="145.25" y2="153.75" stroke="#333" stroke-width="0.8" />
<text x="142.65" y="156.02" font-size="6.3" text-anchor="end" font-weight="bold" fill="#111" textLength="9.80" lengthAdjust="spacingAndGlyphs">100</text>
<line x1="143.65" y1="182.50" x2="145.25" y2="182.50" stroke="#333" stroke-width="0.8" />
<text x="142.65" y="184.77" font-size="6.3" text-anchor="end" font-weight="bold" fill="#111" textLength="6.60" lengthAdjust="spacingAndGlyphs">10</text>
<line x1="143.65" y1="211.25" x2="145.25" y2="211.25" stroke="#333" stroke-width="0.8" />
<text x="142.65" y="213.52" font-size="6.3" text-anchor="end" font-weight="bold" fill="#111">1</text>
<line x1="143.65" y1="240.00" x2="145.25" y2="240.00" stroke="#333" stroke-width="0.8" />
<text x="142.65" y="242.27" font-size="6.3" text-anchor="end" font-weight="bold" fill="#111" textLength="8.30" lengthAdjust="spacingAndGlyphs">0.1</text>
<line x1="145.25" y1="240.00" x2="227.75" y2="240.00" stroke="#333" stroke-width="0.8" />
<rect x="150.60" y="173.75" width="8.80" height="66.25" fill="#111" stroke="none" stroke-width="0" />
<rect x="161.25" y="205.50" width="9.00" height="34.50" fill="#111" stroke="none" stroke-width="0" />
<rect x="172.10" y="215.90" width="8.90" height="24.10" fill="#111" stroke="none" stroke-width="0" />
<rect x="191.85" y="178.55" width="8.30" height="61.45" fill="#fff" stroke="#666" stroke-width="0.9" />
<rect x="202.45" y="209.20" width="7.70" height="30.80" fill="#fff" stroke="#666" stroke-width="0.9" />
<line x1="203.20" y1="209.05" x2="209.40" y2="209.05" stroke="#222" stroke-width="1.3" stroke-linecap="round"/>
<rect x="213.55" y="216.05" width="7.25" height="23.95" fill="#fff" stroke="#666" stroke-width="0.9" />
<line x1="155.00" y1="240.00" x2="155.00" y2="241.30" stroke="#333" stroke-width="0.8" />
<text x="155.00" y="250.02" font-size="6.3" text-anchor="middle" font-weight="bold" fill="#111">3</text>
<line x1="165.60" y1="240.00" x2="165.60" y2="241.30" stroke="#333" stroke-width="0.8" />
<text x="165.60" y="250.02" font-size="6.3" text-anchor="middle" font-weight="bold" fill="#111">6</text>
<line x1="176.50" y1="240.00" x2="176.50" y2="241.30" stroke="#333" stroke-width="0.8" />
<text x="176.50" y="250.02" font-size="6.3" text-anchor="middle" font-weight="bold" fill="#111">11</text>
<line x1="195.80" y1="240.00" x2="195.80" y2="241.30" stroke="#333" stroke-width="0.8" />
<text x="195.80" y="250.02" font-size="6.3" text-anchor="middle" font-weight="bold" fill="#111">3</text>
<line x1="206.30" y1="240.00" x2="206.30" y2="241.30" stroke="#333" stroke-width="0.8" />
<text x="206.30" y="250.02" font-size="6.3" text-anchor="middle" font-weight="bold" fill="#111">6</text>
<line x1="217.30" y1="240.00" x2="217.30" y2="241.30" stroke="#333" stroke-width="0.8" />
<text x="217.30" y="250.02" font-size="6.3" text-anchor="middle" font-weight="bold" fill="#111">11</text>
<text x="142.40" y="250.02" font-size="6.3" text-anchor="middle" font-weight="bold" fill="#111" textLength="10.20" lengthAdjust="spacingAndGlyphs">day</text>
<line x1="149.60" y1="254.30" x2="179.40" y2="254.30" stroke="#333" stroke-width="0.9" />
<line x1="191.50" y1="254.30" x2="220.40" y2="254.30" stroke="#333" stroke-width="0.9" />
<text x="165.00" y="263.47" font-size="6.3" text-anchor="middle" font-weight="bold" fill="#111" textLength="19.00" lengthAdjust="spacingAndGlyphs">+ IL-23</text>
<text x="205.40" y="263.47" font-size="6.3" text-anchor="middle" font-weight="bold" fill="#111" textLength="18.20" lengthAdjust="spacingAndGlyphs">- IL-23</text>
<g transform="translate(126.6,196.5) rotate(-90)"><text x="0" y="2.27" font-size="6.3" font-weight="bold" text-anchor="middle" fill="#111" textLength="40" lengthAdjust="spacingAndGlyphs">relative units</text></g>
<text x="244.20" y="147.30" font-size="13.5" font-weight="bold" fill="#000">F</text>
<line x1="258.75" y1="165.60" x2="478.75" y2="165.60" stroke="#333" stroke-width="1.0" />
<text x="369.80" y="159.42" font-size="8.4" text-anchor="middle" font-weight="normal" fill="#1a1a1a" stroke="#1a1a1a" stroke-width="0.4" stroke-linejoin="round" textLength="30.00" lengthAdjust="spacingAndGlyphs">no IL-23</text>
<text x="294.20" y="178.42" font-size="8.4" text-anchor="middle" font-weight="normal" fill="#1a1a1a" stroke="#1a1a1a" stroke-width="0.4" stroke-linejoin="round" textLength="20.40" lengthAdjust="spacingAndGlyphs">day 3</text>
<text x="370.10" y="178.42" font-size="8.4" text-anchor="middle" font-weight="normal" fill="#1a1a1a" stroke="#1a1a1a" stroke-width="0.4" stroke-linejoin="round" textLength="20.20" lengthAdjust="spacingAndGlyphs">day 6</text>
<text x="444.50" y="178.42" font-size="8.4" text-anchor="middle" font-weight="normal" fill="#1a1a1a" stroke="#1a1a1a" stroke-width="0.4" stroke-linejoin="round" textLength="24.00" lengthAdjust="spacingAndGlyphs">day 11</text>
<rect x="260.70" y="185.30" width="68.10" height="66.70" fill="#fff" stroke="#999" stroke-width="0.8"/>
<path d="M262.00,252.00 L276.00,251.70 L281.00,251.30 L286.00,248.40 L289.20,242.80 L290.40,235.40 L291.60,228.00 L292.40,215.00 L293.60,200.00 L294.80,191.80 L296.20,196.00 L297.50,205.00 L298.50,215.00 L299.30,225.00 L299.60,231.00 L300.40,240.00 L302.40,246.50 L306.00,250.00 L310.40,251.50 L316.00,252.00 Z" fill="#c6c6c6" stroke="#111" stroke-width="1.1" stroke-linejoin="round"/>
<path d="M262.00,252.00 L276.00,251.70 L281.00,251.30 L286.00,248.40 L289.20,242.80 L290.40,235.40 L291.60,228.00 L292.40,215.00 L293.60,200.00 L294.80,191.80 L296.20,196.00 L297.50,205.00 L298.50,215.00 L299.30,225.00 L299.80,229.30 L303.00,233.50 L306.00,238.50 L307.30,241.00 L308.60,241.40 L310.40,243.50 L314.00,248.40 L319.60,251.70 L326.00,252.00" fill="none" stroke="#000" stroke-width="1.3" stroke-linejoin="round"/>
<rect x="335.90" y="184.30" width="68.30" height="67.70" fill="#fff" stroke="#999" stroke-width="0.8"/>
<path d="M337.00,252.00 L347.00,251.80 L350.00,250.70 L354.90,249.00 L358.00,246.00 L359.80,242.20 L361.20,237.00 L362.30,232.40 L363.30,226.00 L364.20,220.00 L365.00,214.00 L366.50,203.00 L368.10,191.20 L369.50,197.00 L370.60,206.00 L371.20,215.00 L371.60,222.00 L372.40,233.60 L373.40,243.50 L375.90,246.60 L384.80,249.60 L393.50,251.60 L398.00,252.00 Z" fill="#c6c6c6" stroke="#111" stroke-width="1.1" stroke-linejoin="round"/>
<path d="M337.00,252.00 L347.00,251.80 L350.00,250.70 L354.90,249.00 L358.00,246.00 L359.80,242.20 L361.20,237.00 L362.30,232.40 L363.30,226.00 L364.20,220.00 L365.00,214.00 L366.50,203.00 L368.10,191.20 L369.50,197.00 L370.60,206.00 L371.20,215.00 L371.60,222.00 L372.40,233.60 L374.70,235.50 L375.90,237.90 L377.50,237.30 L379.00,238.90 L381.00,238.90 L382.40,240.40 L384.00,240.20 L385.50,241.60 L387.90,243.20 L389.50,244.40 L391.60,247.20 L394.10,251.30 L396.00,252.00 L403.00,252.00" fill="none" stroke="#000" stroke-width="1.3" stroke-linejoin="round"/>
<rect x="410.50" y="184.20" width="67.70" height="67.80" fill="#fff" stroke="#999" stroke-width="0.8"/>
<path d="M411.00,252.00 L420.00,251.80 L426.00,251.00 L430.30,247.90 L433.40,242.30 L435.30,234.90 L436.50,225.00 L437.60,215.00 L439.00,200.00 L440.80,190.80 L442.00,192.50 L443.50,195.00 L444.80,212.00 L445.60,222.00 L445.60,230.40 L446.20,236.50 L448.00,240.20 L451.10,243.30 L454.80,244.00 L456.70,242.10 L457.90,240.90 L459.20,243.30 L462.20,244.60 L466.00,245.80 L469.00,247.70 L471.50,249.50 L474.10,251.60 L476.00,252.00 Z" fill="#c6c6c6" stroke="#111" stroke-width="1.1" stroke-linejoin="round"/>
<path d="M411.00,252.00 L420.00,251.80 L426.00,251.00 L430.30,247.90 L433.40,242.30 L435.30,234.90 L436.50,225.00 L437.60,215.00 L438.80,200.00 L440.20,190.60 L441.60,192.00 L443.30,194.50 L444.60,212.00 L445.40,218.00 L446.80,225.40 L449.30,230.40 L451.70,231.00 L456.10,231.00 L458.30,228.90 L459.80,231.60 L462.20,234.10 L464.70,237.20 L467.20,240.20 L469.70,244.60 L472.10,248.90 L474.50,251.00 L476.60,251.60 L478.00,252.00" fill="none" stroke="#000" stroke-width="1.3" stroke-linejoin="round"/>
<line x1="260.70" y1="186.00" x2="260.70" y2="252.00" stroke="#222" stroke-width="1.1" />
<line x1="260.30" y1="252.00" x2="285.00" y2="252.00" stroke="#222" stroke-width="0.9" />
<line x1="335.90" y1="184.30" x2="404.20" y2="184.30" stroke="#333" stroke-width="0.9" />
<line x1="335.90" y1="184.00" x2="335.90" y2="252.00" stroke="#222" stroke-width="1.1" />
<line x1="410.50" y1="192.00" x2="410.50" y2="252.00" stroke="#222" stroke-width="1.1" />
<line x1="410.20" y1="251.70" x2="426.00" y2="251.70" stroke="#111" stroke-width="1.1" />
<line x1="335.70" y1="252.00" x2="352.00" y2="252.00" stroke="#111" stroke-width="1.0" />
<polygon points="260.7,238 260.7,252 262.6,252" fill="#111"/>
<g transform="translate(252.7,220.0) rotate(-90)"><text x="0" y="3.0" font-size="8.6" font-weight="normal" stroke="#1a1a1a" stroke-width="0.4" text-anchor="middle" fill="#1a1a1a" textLength="25.2" lengthAdjust="spacingAndGlyphs">% Max</text></g>
<line x1="252.20" y1="238.00" x2="252.20" y2="259.40" stroke="#111" stroke-width="1.0" />
<line x1="251.70" y1="259.40" x2="269.50" y2="259.40" stroke="#111" stroke-width="1.0" />
<polygon points="252.2,236.6 250.4,241.4 254.0,241.4" fill="#111"/>
<polygon points="274.3,259.4 268.6,257.5 268.6,261.3" fill="#111"/>
<text x="278.20" y="262.40" font-size="8.6" text-anchor="start" font-weight="normal" fill="#1a1a1a" stroke="#1a1a1a" stroke-width="0.4" stroke-linejoin="round" textLength="23.50" lengthAdjust="spacingAndGlyphs">IL-23R</text>
<rect x="484.2" y="187.3" width="15.0" height="5.8" rx="1.5" fill="#b8b8b8" stroke="#333" stroke-width="0.8"/>
<line x1="484.80" y1="204.40" x2="499.00" y2="204.40" stroke="#000" stroke-width="1.5" />
<text x="502.70" y="192.91" font-size="7.8" text-anchor="start" font-weight="normal" fill="#1a1a1a" stroke="#1a1a1a" stroke-width="0.45" stroke-linejoin="round" textLength="16.40" lengthAdjust="spacingAndGlyphs">3/28</text>
<text x="502.70" y="207.31" font-size="7.8" text-anchor="start" font-weight="normal" fill="#1a1a1a" stroke="#1a1a1a" stroke-width="0.45" stroke-linejoin="round" textLength="11.40" lengthAdjust="spacingAndGlyphs">3/5</text>
</svg>
</body></html>
